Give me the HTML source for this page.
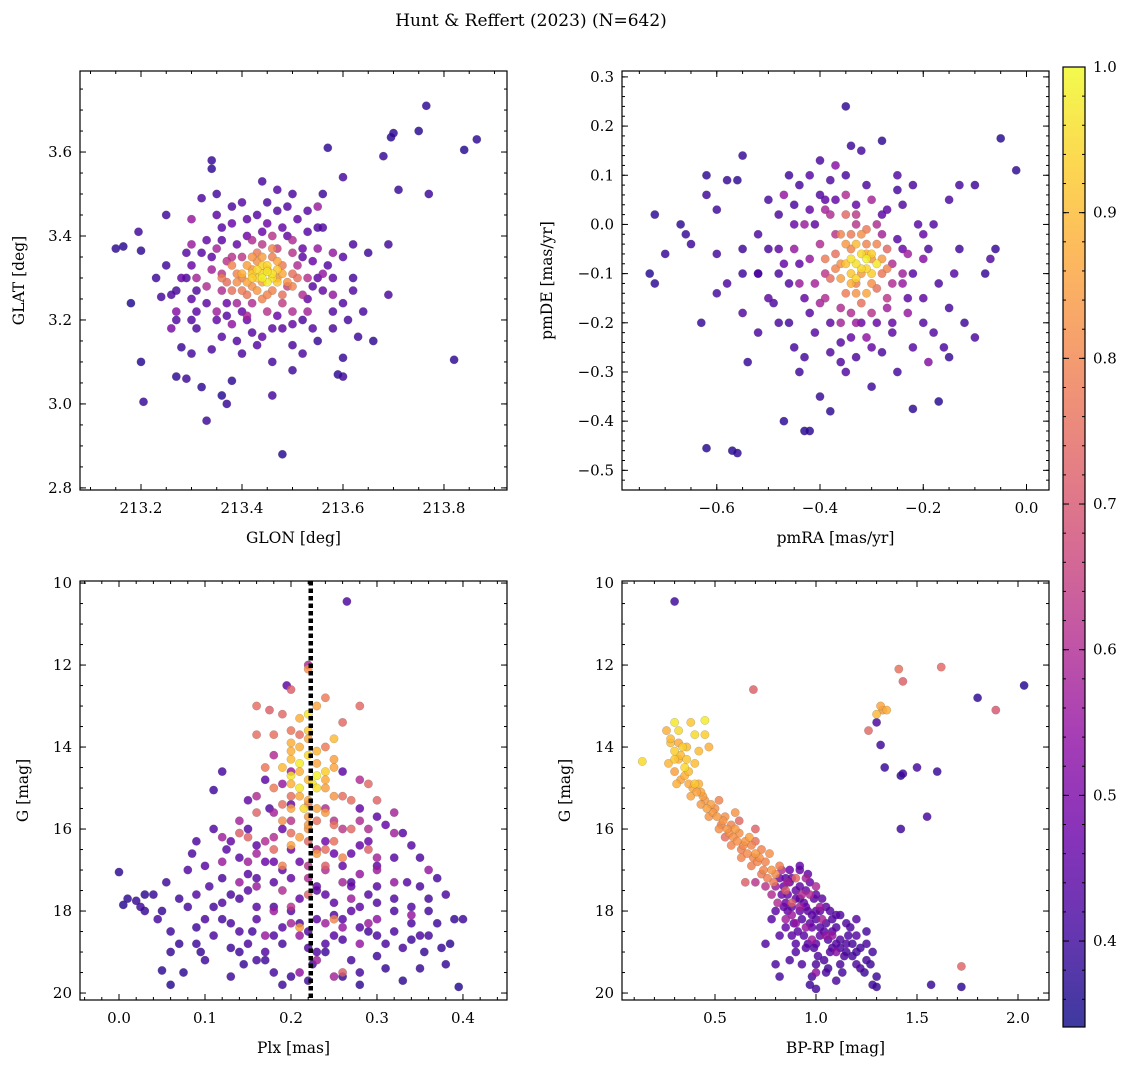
<!DOCTYPE html>
<html><head><meta charset="utf-8">
<style>
html,body{margin:0;padding:0;background:#fff;}
svg{display:block;font-family:"DejaVu Serif","Liberation Serif",serif;}
</style></head>
<body>
<svg id="fig" width="1136" height="1067" viewBox="0 0 1136 1067" xmlns="http://www.w3.org/2000/svg">
<text x="531" y="26" font-size="17" text-anchor="middle">Hunt &amp; Reffert (2023) (N=642)</text>
</svg>
<script>
// ---------- data: panel 1 (GLON, GLAT, membership) ----------
const p1x = [213.15,213.165,213.18,213.195,213.2,213.2,213.205,213.25,213.26,213.24,213.27,213.28,213.29,213.3,213.32,213.31,213.34,213.34,213.36,213.33,213.37,213.38,213.46,213.48,213.5,213.52,213.55,213.57,213.56,213.6,213.6,213.59,213.6,213.62,213.66,213.68,213.695,213.7,213.71,213.75,213.765,213.77,213.82,213.84,213.865,213.69,213.64,213.63,213.58,213.6,213.62,213.56,213.53,213.5,213.44,213.47,213.4,213.35,213.32,213.28,213.3,213.27,213.3,213.36,213.4,213.43,213.46,213.5,213.53,213.55,213.58,213.52,213.48,213.38,213.33,213.29,213.31,213.35,213.42,213.48,213.54,213.56,213.6,213.51,213.37,213.45,213.41,213.54,213.69,
213.3,213.27,213.26,213.55,213.5,213.35,213.38,213.52,213.45,213.33,213.4,213.55,213.36,213.53,213.47,213.42,213.58,213.31,213.49,213.44,213.38,213.5,
213.4,213.42,213.45,213.47,213.43,213.46,213.48,213.41,213.39,213.44,213.5,213.42,213.46,213.4,213.48,213.37,213.51,213.44,213.38,213.43,
213.44,213.45,213.43,213.46,213.44,213.47,213.42,213.45];
const p1y = [3.37,3.375,3.24,3.41,3.365,3.10,3.005,3.45,3.26,3.255,3.065,3.135,3.06,3.12,3.04,3.18,3.58,3.56,3.02,2.96,3.0,3.055,3.02,2.88,3.08,3.2,3.15,3.61,3.5,3.54,3.11,3.07,3.065,3.27,3.15,3.59,3.635,3.645,3.51,3.65,3.71,3.5,3.105,3.605,3.63,3.26,3.22,3.16,3.3,3.35,3.38,3.42,3.46,3.5,3.53,3.51,3.48,3.45,3.49,3.3,3.33,3.2,3.25,3.16,3.12,3.14,3.1,3.14,3.25,3.3,3.22,3.37,3.42,3.43,3.39,3.36,3.22,3.2,3.17,3.18,3.34,3.27,3.24,3.44,3.24,3.43,3.4,3.18,3.38,
3.44,3.22,3.18,3.47,3.39,3.37,3.19,3.26,3.22,3.28,3.35,3.37,3.31,3.3,3.37,3.24,3.26,3.3,3.28,3.38,3.35,3.22,
3.3,3.28,3.32,3.3,3.34,3.27,3.33,3.26,3.31,3.29,3.31,3.32,3.35,3.27,3.26,3.29,3.3,3.25,3.27,3.36,
3.31,3.315,3.3,3.3,3.33,3.32,3.31,3.29];
const p1p = [0.38,0.37,0.36,0.4,0.38,0.37,0.39,0.4,0.42,0.41,0.38,0.39,0.4,0.41,0.38,0.42,0.39,0.38,0.37,0.4,0.39,0.38,0.41,0.37,0.4,0.42,0.39,0.38,0.4,0.41,0.39,0.38,0.4,0.43,0.38,0.39,0.37,0.38,0.39,0.37,0.38,0.4,0.38,0.37,0.38,0.42,0.41,0.4,0.45,0.44,0.42,0.43,0.44,0.42,0.41,0.43,0.44,0.45,0.42,0.46,0.47,0.43,0.45,0.44,0.42,0.43,0.41,0.42,0.46,0.45,0.43,0.47,0.46,0.47,0.46,0.44,0.45,0.46,0.44,0.45,0.47,0.46,0.43,0.45,0.47,0.48,0.48,0.44,0.41,
0.55,0.52,0.5,0.56,0.6,0.58,0.54,0.6,0.62,0.6,0.63,0.55,0.62,0.61,0.64,0.6,0.55,0.58,0.65,0.63,0.62,0.6,
0.8,0.82,0.85,0.83,0.82,0.8,0.78,0.77,0.8,0.86,0.76,0.84,0.79,0.78,0.76,0.75,0.75,0.8,0.76,0.78,
0.95,0.97,0.93,0.96,0.94,0.92,0.93,0.98];
const p1xB = [213.34,213.36,213.39,213.41,213.44,213.49,213.52,213.54,213.5,213.46,213.41,213.37,213.33,213.31,213.29,213.32,213.36,213.43,213.47,213.53,213.57,213.58,213.52,213.44,213.39,213.34,213.27,213.25,213.23,213.62,213.65,213.61,213.35,213.38,213.49,213.55,213.45,213.3,213.4,213.47,
213.37,213.51,213.48,213.39,213.36,213.5,213.42,213.46,213.53,213.34,213.56,213.41,213.3,213.58,213.35,
213.41,213.43,213.45,213.49,213.47,213.42,213.39,213.46,213.44,213.4,213.48,213.41,213.38,213.5,213.36,
213.43,213.46,213.44,213.45,213.42,213.47];
const p1yB = [3.35,3.42,3.38,3.44,3.41,3.4,3.35,3.28,3.19,3.18,3.2,3.21,3.24,3.27,3.3,3.36,3.39,3.45,3.46,3.41,3.33,3.18,3.12,3.16,3.15,3.13,3.27,3.33,3.3,3.3,3.36,3.2,3.5,3.47,3.47,3.42,3.48,3.2,3.22,3.21,
3.34,3.33,3.24,3.24,3.27,3.36,3.39,3.4,3.22,3.32,3.31,3.21,3.38,3.36,3.22,
3.33,3.27,3.26,3.29,3.34,3.35,3.29,3.37,3.35,3.31,3.31,3.29,3.33,3.28,3.3,
3.32,3.31,3.3,3.33,3.3,3.29];
const p1pB = [0.45,0.44,0.46,0.45,0.47,0.46,0.45,0.44,0.46,0.45,0.47,0.44,0.45,0.43,0.42,0.44,0.45,0.44,0.43,0.44,0.43,0.42,0.42,0.46,0.43,0.42,0.41,0.4,0.4,0.41,0.4,0.41,0.41,0.42,0.43,0.42,0.42,0.43,0.46,0.47,
0.62,0.6,0.64,0.58,0.6,0.62,0.6,0.62,0.58,0.57,0.55,0.58,0.56,0.55,0.57,
0.85,0.84,0.8,0.82,0.86,0.83,0.82,0.8,0.85,0.88,0.87,0.86,0.8,0.8,0.78,
0.95,0.96,0.99,0.94,0.93,0.92];

// ---------- data: panel 2 (pmRA, pmDE, membership) ----------
const p2x = [-0.72,-0.73,-0.72,-0.7,-0.67,-0.65,-0.63,-0.62,-0.6,-0.62,-0.6,-0.58,-0.56,-0.55,-0.57,-0.56,-0.54,-0.52,-0.5,-0.47,-0.43,-0.42,-0.46,-0.48,-0.45,-0.44,-0.4,-0.38,-0.35,-0.34,-0.32,-0.28,-0.3,-0.25,-0.22,-0.17,-0.15,-0.12,-0.08,-0.05,-0.02,-0.06,-0.1,-0.13,-0.15,-0.18,-0.22,-0.25,-0.42,-0.4,-0.38,-0.5,-0.52,-0.47,-0.45,-0.43,-0.41,-0.36,-0.3,-0.26,-0.22,-0.18,-0.2,-0.24,-0.2,-0.27,-0.42,-0.48,-0.55,-0.58,-0.6,-0.35,-0.32,-0.14,-0.1,-0.07,-0.16,-0.52,-0.39,-0.62,-0.66,
-0.38,-0.33,-0.28,-0.26,-0.24,-0.27,-0.33,-0.4,-0.42,-0.39,-0.36,-0.23,-0.45,-0.3,-0.35,-0.2,-0.44,-0.37,-0.31,-0.47,-0.19,
-0.36,-0.34,-0.32,-0.3,-0.33,-0.35,-0.31,-0.28,-0.37,-0.34,-0.29,-0.38,-0.27,-0.32,-0.35,-0.31,
-0.33,-0.32,-0.31,-0.34,-0.3,-0.33,-0.35,-0.29];
const p2y = [0.02,-0.1,-0.12,-0.06,0.0,-0.04,-0.2,-0.455,-0.06,0.1,0.03,0.09,0.09,0.14,-0.46,-0.465,-0.28,-0.1,0.05,-0.4,-0.42,-0.42,0.1,-0.2,-0.25,-0.3,-0.35,-0.38,0.24,0.16,0.15,0.17,-0.33,-0.3,-0.375,-0.36,-0.27,-0.2,-0.1,0.175,0.11,-0.05,0.08,0.08,0.05,0.0,0.08,0.1,0.1,0.13,0.09,-0.15,-0.02,-0.08,0.0,-0.15,-0.22,-0.28,-0.25,-0.22,-0.25,-0.22,-0.15,-0.05,-0.02,0.03,0.03,-0.05,-0.18,-0.12,-0.14,-0.3,-0.2,-0.1,-0.23,-0.07,-0.25,-0.22,0.05,0.06,-0.02,
0.02,0.0,-0.02,-0.08,-0.12,-0.17,-0.2,-0.16,-0.07,-0.1,-0.17,-0.18,-0.05,0.05,0.06,-0.07,-0.12,0.12,-0.23,0.06,-0.28,
-0.08,-0.05,-0.1,-0.07,-0.12,-0.14,-0.04,-0.1,-0.06,-0.02,-0.13,-0.11,-0.05,-0.16,0.02,-0.01,
-0.08,-0.06,-0.09,-0.1,-0.1,-0.04,-0.08,-0.08];
const p2p = [0.38,0.37,0.38,0.39,0.38,0.4,0.39,0.37,0.41,0.38,0.4,0.39,0.38,0.39,0.37,0.38,0.39,0.42,0.41,0.38,0.37,0.38,0.4,0.42,0.41,0.4,0.39,0.38,0.38,0.4,0.41,0.38,0.4,0.41,0.38,0.37,0.39,0.4,0.39,0.37,0.38,0.39,0.4,0.41,0.42,0.43,0.42,0.43,0.44,0.42,0.43,0.45,0.42,0.46,0.47,0.46,0.44,0.43,0.46,0.45,0.44,0.43,0.45,0.47,0.46,0.45,0.46,0.45,0.43,0.42,0.41,0.43,0.47,0.44,0.42,0.43,0.42,0.42,0.45,0.4,0.39,
0.6,0.62,0.58,0.6,0.55,0.57,0.56,0.58,0.55,0.63,0.6,0.55,0.55,0.58,0.6,0.52,0.56,0.53,0.54,0.55,0.52,
0.82,0.8,0.84,0.83,0.79,0.78,0.8,0.77,0.76,0.78,0.76,0.75,0.74,0.76,0.74,0.78,
0.96,0.95,0.94,0.92,0.93,0.9,0.91,0.97];
const p2xB = [-0.44,-0.41,-0.37,-0.33,-0.28,-0.25,-0.22,-0.23,-0.26,-0.29,-0.34,-0.38,-0.42,-0.46,-0.48,-0.5,-0.45,-0.4,-0.31,-0.24,-0.19,-0.17,-0.2,-0.28,-0.38,-0.46,-0.52,-0.55,-0.43,-0.33,-0.25,-0.35,-0.48,-0.15,-0.13,-0.55,-0.44,-0.36,-0.21,-0.49,
-0.4,-0.37,-0.29,-0.26,-0.3,-0.36,-0.41,-0.23,-0.39,-0.27,-0.33,-0.43,-0.34,-0.24,-0.39,
-0.36,-0.33,-0.3,-0.28,-0.35,-0.32,-0.37,-0.29,-0.31,-0.34,-0.36,-0.27,-0.39,-0.31,
-0.32,-0.34,-0.3,-0.33,-0.31];
const p2yB = [-0.08,0.0,0.05,0.04,0.02,-0.03,-0.1,-0.15,-0.2,-0.2,-0.23,-0.2,-0.18,-0.12,-0.1,-0.05,0.04,0.06,0.08,0.04,-0.05,-0.12,-0.2,-0.26,-0.26,-0.2,-0.1,-0.05,-0.27,-0.27,0.07,0.1,0.02,-0.17,-0.05,-0.1,0.08,-0.24,0.0,-0.16,
-0.04,-0.02,0.0,-0.12,-0.18,-0.2,-0.12,-0.06,-0.15,-0.15,0.02,0.0,-0.18,-0.1,0.03,
-0.11,-0.14,-0.12,-0.07,-0.04,-0.02,-0.09,-0.04,-0.14,-0.12,-0.02,-0.09,-0.07,-0.06,
-0.09,-0.07,-0.06,-0.11,-0.07];
const p2pB = [0.45,0.45,0.46,0.46,0.45,0.44,0.44,0.45,0.46,0.47,0.46,0.45,0.44,0.43,0.42,0.42,0.42,0.43,0.42,0.43,0.42,0.42,0.43,0.42,0.43,0.41,0.41,0.4,0.41,0.42,0.41,0.41,0.42,0.41,0.4,0.4,0.41,0.44,0.44,0.42,
0.6,0.62,0.6,0.6,0.62,0.58,0.58,0.57,0.6,0.63,0.63,0.56,0.6,0.57,0.58,
0.85,0.83,0.82,0.84,0.84,0.82,0.8,0.8,0.86,0.88,0.8,0.8,0.78,0.88,
0.95,0.96,0.93,0.94,0.99];

// ---------- data: panel 3 (Plx, G, membership) ----------
const p3x = [0.0,0.005,0.01,0.02,0.03,0.025,0.04,0.045,0.05,0.06,0.055,0.07,0.075,0.08,0.085,0.09,0.095,0.1,0.11,0.105,0.12,0.125,0.13,0.14,0.145,0.15,0.155,0.16,0.17,0.175,0.18,0.19,0.195,0.2,0.21,0.225,0.23,0.24,0.25,0.26,0.265,0.27,0.28,0.29,0.3,0.31,0.32,0.33,0.335,0.34,0.35,0.355,0.36,0.37,0.38,0.39,0.395,0.4,0.375,0.385,0.31,0.33,0.35,0.29,0.27,0.25,0.12,0.13,0.15,0.17,0.19,0.2,0.11,0.14,0.16,0.18,0.22,0.26,0.28,0.3,0.32,0.34,0.36,0.06,0.08,0.1,0.2,0.24,0.26,0.28,0.3,0.15,0.17,0.19,0.23,0.27,0.13,0.09,
0.22,0.19,0.2,0.3,0.32,0.18,0.16,0.28,0.24,0.14,0.2,0.26,0.22,0.3,0.12,0.34,0.17,0.25,0.23,0.21,0.29,0.15,0.27,0.19,0.25,0.21,0.36,0.32,0.18,0.28,
0.16,0.175,0.2,0.18,0.28,0.24,0.2,0.16,0.14,0.26,0.27,0.23,0.18,0.22,0.24,0.2,0.25,0.17,0.29,0.3,0.24,0.21,0.26,0.22,
0.21,0.22,0.2,0.23,0.25,0.22,0.2,0.21,0.23,0.24,0.22,0.19,0.23,0.2,0.25,0.21,0.22,0.23,0.24,0.26,0.22,0.2,0.21,0.25,0.22,0.19,
0.22,0.21,0.225,0.215,0.23,0.2];
const p3y = [17.05,17.85,17.7,17.75,17.6,17.9,17.6,18.2,19.45,19.8,17.3,18.8,19.5,17.9,16.6,18.4,19.0,18.2,15.05,17.4,14.6,16.5,18.9,17.7,19.3,16.0,18.5,17.2,19.2,15.5,17.9,18.8,12.5,19.6,18.3,19.3,17.5,19.0,18.1,19.6,10.45,17.3,19.8,18.5,17.8,19.4,18.0,19.7,17.3,18.7,17.4,19.0,17.7,18.3,17.6,18.2,19.85,18.2,18.9,18.8,15.9,16.1,16.7,16.3,16.6,17.8,17.8,16.3,17.5,16.8,17.0,16.5,18.6,19.0,18.2,19.5,18.9,18.7,17.9,19.1,18.5,17.9,18.6,18.5,17.0,16.9,15.4,16.3,14.6,15.5,15.7,15.3,14.8,19.8,18.2,19.2,18.3,17.6,
12.0,14.9,14.6,16.7,17.3,16.2,16.6,17.1,17.0,17.3,17.9,18.4,17.2,18.2,16.2,18.1,18.6,15.8,16.5,18.6,16.0,16.8,17.7,17.5,19.6,19.5,17.0,16.1,18.0,18.8,
13.0,13.1,13.6,13.7,13.0,12.8,15.2,15.6,16.1,15.2,16.0,15.8,15.0,16.3,16.9,16.1,16.3,14.5,14.9,15.3,14.0,13.7,19.5,17.6,
13.3,13.8,14.3,14.1,14.5,14.8,14.9,15.2,15.5,15.0,15.7,15.8,16.6,16.4,14.3,14.6,12.1,13.0,15.6,16.7,16.0,13.9,18.4,18.2,15.3,16.9,
13.2,14.4,14.9,15.5,14.7,14.7];
const p3p = [0.38,0.37,0.38,0.39,0.38,0.4,0.39,0.41,0.38,0.37,0.4,0.39,0.38,0.41,0.42,0.4,0.39,0.42,0.4,0.43,0.41,0.44,0.4,0.42,0.39,0.43,0.41,0.44,0.4,0.43,0.42,0.41,0.45,0.4,0.42,0.41,0.45,0.4,0.43,0.39,0.42,0.44,0.38,0.41,0.43,0.39,0.42,0.38,0.44,0.4,0.42,0.39,0.41,0.4,0.42,0.39,0.37,0.4,0.39,0.38,0.46,0.44,0.42,0.47,0.46,0.45,0.43,0.46,0.44,0.47,0.46,0.48,0.42,0.4,0.44,0.41,0.43,0.42,0.45,0.4,0.42,0.43,0.41,0.4,0.43,0.44,0.47,0.48,0.45,0.46,0.45,0.46,0.45,0.4,0.45,0.41,0.42,0.44,
0.6,0.55,0.56,0.58,0.55,0.6,0.58,0.55,0.6,0.56,0.62,0.55,0.6,0.54,0.57,0.55,0.56,0.62,0.63,0.55,0.6,0.57,0.56,0.6,0.58,0.54,0.55,0.57,0.56,0.55,
0.75,0.72,0.77,0.76,0.74,0.78,0.76,0.73,0.72,0.75,0.74,0.76,0.78,0.74,0.72,0.75,0.76,0.77,0.74,0.73,0.78,0.75,0.72,0.73,
0.88,0.87,0.9,0.89,0.86,0.9,0.88,0.87,0.86,0.85,0.84,0.82,0.84,0.86,0.85,0.88,0.82,0.86,0.84,0.8,0.83,0.88,0.85,0.8,0.87,0.8,
0.97,0.98,0.96,0.95,0.99,0.97];
const p3xB = [0.12,0.14,0.16,0.18,0.2,0.22,0.24,0.26,0.28,0.3,0.32,0.34,0.36,0.15,0.17,0.19,0.21,0.23,0.25,0.27,0.29,0.31,0.33,0.11,0.13,0.09,0.07,0.05,0.03,0.38,0.35,0.16,0.18,0.2,0.26,0.28,0.3,0.32,0.14,0.12,0.24,0.22,0.18,0.28,0.3,0.16,0.1,0.06,0.34,0.37,0.19,0.25,0.23,0.27,0.21,0.15,0.13,0.35,0.09,0.11,
0.18,0.16,0.24,0.28,0.2,0.26,0.2,0.16,0.3,0.12,0.24,0.14,0.28,0.18,0.22,0.26,0.32,0.17,0.29,0.23,
0.15,0.19,0.25,0.27,0.18,0.24,0.22,0.16,0.26,0.2,0.19,0.29,
0.21,0.23,0.24,0.2,0.22,0.25,0.21,0.2,0.22,0.24,0.23,0.21,0.22,0.25,0.19];
const p3yB = [17.2,18.5,17.9,17.3,18.0,18.5,17.6,18.2,18.4,17.4,17.7,18.3,18.0,18.8,19.0,18.4,17.7,19.0,18.6,18.0,17.6,18.8,18.9,17.9,17.6,18.8,17.7,18.0,18.0,19.3,19.4,16.4,16.8,17.2,16.9,16.4,16.9,16.7,16.7,18.2,18.8,19.7,18.6,19.5,18.6,19.2,19.2,19.0,16.4,17.2,16.0,16.6,17.4,17.4,16.8,17.1,19.6,18.6,16.3,16.0,
15.6,15.2,15.5,15.8,15.8,17.3,18.3,17.4,17.0,16.8,18.3,15.8,14.8,14.2,16.9,16.0,15.6,16.3,18.3,19.2,
16.2,15.4,15.9,15.3,16.5,16.5,15.4,13.7,13.4,12.6,13.2,16.5,
14.0,14.4,14.8,15.5,15.9,15.2,16.2,14.1,14.2,14.6,15.0,15.0,13.6,13.8,14.5];
const p3pB = [0.42,0.43,0.44,0.45,0.44,0.43,0.45,0.44,0.43,0.44,0.43,0.42,0.41,0.42,0.43,0.44,0.46,0.43,0.44,0.45,0.44,0.42,0.42,0.41,0.42,0.4,0.4,0.39,0.39,0.39,0.39,0.45,0.47,0.46,0.46,0.46,0.45,0.44,0.44,0.41,0.43,0.4,0.43,0.41,0.42,0.41,0.4,0.39,0.44,0.41,0.47,0.47,0.46,0.46,0.47,0.44,0.4,0.42,0.42,0.43,
0.58,0.6,0.6,0.6,0.62,0.58,0.58,0.56,0.56,0.56,0.57,0.58,0.6,0.6,0.62,0.63,0.58,0.6,0.56,0.57,
0.73,0.75,0.76,0.75,0.74,0.75,0.77,0.75,0.74,0.72,0.74,0.72,
0.88,0.86,0.87,0.86,0.84,0.83,0.85,0.88,0.95,0.93,0.96,0.97,0.92,0.9,0.9];

// ---------- data: panel 4 (BP-RP, G, membership) ----------
const p4x = [0.14,0.3,0.38,0.45,0.26,0.28,0.3,0.32,0.35,0.33,0.37,0.4,0.3,0.42,0.43,0.45,0.48,0.5,0.38,0.4,0.32,0.45,0.47,0.36,0.55,0.58,0.6,0.62,0.65,0.68,0.7,0.72,0.75,0.78,0.8,0.53,0.57,0.63,0.67,0.73,0.77,0.82,0.6,0.52,1.32,1.3,1.33,1.35,
0.69,1.41,1.62,1.43,1.89,1.26,1.72,0.65,0.55,0.62,0.7,0.85,0.9,0.88,0.7,
0.3,1.8,2.03,1.3,1.32,1.34,1.42,1.43,1.5,1.6,1.42,1.55,0.85,0.9,0.92,0.95,1.0,0.88,0.93,0.98,1.02,1.05,1.08,1.1,1.12,1.15,1.18,1.2,1.22,1.25,1.3,1.3,1.28,0.97,1.0,1.05,0.93,0.9,0.88,0.85,0.8,0.75,0.85,0.95,1.0,1.05,1.1,1.15,1.2,1.25,1.28,1.0,1.07,1.12,0.83,0.87,0.92,0.97,1.02,1.08,1.2,1.57,1.72,1.0,0.95,1.15,0.82,1.1,0.92,0.97,
0.95,1.0,0.9,0.98,1.05,1.1,0.85,0.93,1.03,0.8,0.78,0.7,1.0];
const p4y = [14.35,13.4,13.4,13.35,13.6,13.9,14.1,14.3,14.5,14.8,14.6,14.9,14.6,14.9,15.1,15.3,15.4,15.5,15.2,14.4,13.9,13.7,14.0,14.0,15.7,15.9,16.0,16.1,16.3,16.4,16.6,16.7,16.8,17.0,17.1,15.9,16.1,16.5,16.2,16.5,16.6,16.9,15.6,15.3,13.0,13.2,13.1,13.1,
12.6,12.1,12.05,12.4,13.1,13.6,19.35,17.3,16.2,15.8,16.0,17.5,17.2,17.8,16.3,
10.45,12.8,12.5,13.4,13.95,14.5,14.7,14.65,14.5,14.6,16.0,15.7,17.2,17.5,17.7,17.9,18.0,17.9,18.2,18.4,18.6,18.3,18.5,18.8,18.7,19.0,19.1,19.3,19.4,19.2,19.6,19.85,19.8,19.8,19.9,19.5,19.3,18.8,18.6,18.4,19.3,18.8,17.8,17.5,17.6,17.9,18.1,18.3,18.6,18.8,19.0,18.8,19.0,19.3,17.6,17.3,18.0,18.3,18.0,18.9,18.2,19.8,19.85,19.3,18.9,18.8,19.6,19.7,17.0,17.3,
17.2,17.4,18.3,18.7,18.6,19.0,18.2,17.6,18.2,17.4,17.6,17.3,19.5];
const p4p = [0.95,0.97,0.92,0.98,0.88,0.9,0.93,0.88,0.95,0.86,0.9,0.92,0.85,0.88,0.86,0.84,0.85,0.82,0.86,0.9,0.87,0.93,0.88,0.9,0.82,0.8,0.84,0.82,0.83,0.8,0.84,0.82,0.8,0.83,0.81,0.8,0.82,0.79,0.85,0.8,0.82,0.79,0.83,0.8,0.86,0.9,0.84,0.88,
0.72,0.76,0.74,0.72,0.7,0.74,0.73,0.72,0.75,0.74,0.73,0.72,0.74,0.72,0.76,
0.4,0.38,0.37,0.42,0.4,0.39,0.38,0.4,0.41,0.39,0.4,0.41,0.44,0.46,0.45,0.47,0.45,0.46,0.44,0.47,0.46,0.43,0.45,0.44,0.43,0.42,0.41,0.43,0.42,0.41,0.4,0.39,0.4,0.4,0.41,0.42,0.43,0.44,0.45,0.46,0.42,0.43,0.48,0.47,0.46,0.45,0.44,0.43,0.44,0.42,0.41,0.45,0.44,0.42,0.48,0.47,0.46,0.45,0.46,0.43,0.44,0.39,0.38,0.42,0.44,0.43,0.41,0.42,0.46,0.47,
0.58,0.6,0.55,0.56,0.55,0.52,0.57,0.6,0.58,0.56,0.6,0.62,0.54];
const p4xB = [0.28,0.3,0.33,0.35,0.37,0.39,0.41,0.44,0.46,0.49,0.51,0.54,0.56,0.59,0.61,0.64,0.66,0.69,0.71,0.74,0.76,0.79,0.34,0.36,0.31,0.43,0.47,0.52,0.58,0.63,0.68,0.73,0.27,0.4,0.42,0.32,
0.82,0.84,0.86,0.88,0.9,0.92,0.94,0.96,0.98,1.0,1.02,1.04,1.06,1.08,1.1,1.12,1.14,1.16,1.18,1.2,1.22,1.24,0.86,0.89,0.91,0.94,0.96,0.99,1.01,1.04,1.06,0.87,0.92,0.96,0.99,1.03,1.07,1.12,1.17,0.84,0.8,0.78,0.82,1.25,1.27,0.98,1.13,0.9,0.87,
0.83,0.86,0.92,0.97,1.02,0.88,0.81,0.75,0.95,1.08];
const p4yB = [13.8,14.3,14.2,14.7,14.9,15.0,15.1,15.2,15.5,15.6,15.7,15.8,16.0,16.2,16.3,16.4,16.6,16.7,16.8,17.0,17.2,17.3,14.0,14.3,14.9,15.4,15.7,16.0,16.4,16.7,16.9,17.1,14.4,13.7,14.1,13.6,
17.2,17.4,17.6,17.2,17.7,17.4,17.8,18.0,18.1,18.2,18.4,18.5,18.7,18.2,18.4,18.9,19.1,18.6,18.8,19.0,18.9,19.5,18.0,18.3,18.5,18.6,18.8,18.9,19.1,19.2,19.4,17.0,16.9,17.1,17.7,17.7,18.0,18.1,18.4,17.9,18.0,18.2,18.6,18.5,19.3,19.6,19.5,19.0,19.2,
17.0,17.3,17.9,17.6,17.9,18.1,17.8,17.4,18.4,18.6];
const p4pB = [0.9,0.92,0.9,0.88,0.87,0.86,0.86,0.85,0.85,0.84,0.84,0.83,0.83,0.82,0.82,0.81,0.81,0.8,0.8,0.8,0.79,0.78,0.93,0.92,0.88,0.84,0.83,0.82,0.8,0.8,0.79,0.78,0.89,0.95,0.9,0.95,
0.48,0.47,0.47,0.47,0.46,0.46,0.46,0.45,0.45,0.44,0.44,0.44,0.43,0.43,0.43,0.42,0.42,0.42,0.41,0.41,0.41,0.4,0.46,0.45,0.45,0.44,0.44,0.43,0.43,0.42,0.41,0.47,0.46,0.46,0.45,0.45,0.44,0.43,0.42,0.46,0.45,0.44,0.44,0.41,0.4,0.41,0.41,0.43,0.42,
0.6,0.58,0.57,0.6,0.56,0.56,0.6,0.62,0.55,0.55];

// ---------- tick arrays ----------
const t1x = [213.2,213.4,213.6,213.8];
const t1y = [2.8,3.0,3.2,3.4,3.6];
const t2x = [-0.6,-0.4,-0.2,0.0];
const t2y = [-0.5,-0.4,-0.3,-0.2,-0.1,0.0,0.1,0.2,0.3];
const t3x = [0.0,0.1,0.2,0.3,0.4];
const t3y = [10,12,14,16,18,20];
const t4x = [0.5,1.0,1.5,2.0];
const t4y = [10,12,14,16,18,20];
const tcb = [0.4,0.5,0.6,0.7,0.8,0.9,1.0];
const plxRef = [0.223];
const cbMin = 0.341, cbMax = 1.0;

const NS = 'http://www.w3.org/2000/svg';
const svg = document.getElementById('fig');
function mk(tag, attrs, parent){const e=document.createElementNS(NS,tag);for(const k in attrs)e.setAttribute(k,attrs[k]);(parent||svg).appendChild(e);return e;}

const plasma=[[13,8,135],[65,4,157],[106,0,168],[143,13,164],[177,42,144],[204,71,120],[225,100,98],[242,132,75],[252,166,54],[252,206,37],[240,249,33]];
function cmap(v){let t=(v-cbMin)/(cbMax-cbMin);t=Math.max(0,Math.min(1,t));const f=t*10,i=Math.min(9,Math.floor(f)),r=f-i;const a=plasma[i],b=plasma[i+1];return 'rgb('+a.map((c,k)=>Math.round(c+(b[k]-c)*r)).join(',')+')';}
function fmt(v,d){const s=Math.abs(v).toFixed(d);return (v<-1e-9?'\u2212':'')+s;}

function panel(cfg){
  const {name,L,R,T,B,x0,x1,y0,y1,xs,ys,ps,xt,yt,xd,yd,xm,ym,xlab,ylab,inv}=cfg;
  const g=mk('g',{});
  
  
  const sx=v=>L+(v-x0)/(x1-x0)*(R-L);
  const sy=inv?(v=>T+(v-y0)/(y1-y0)*(B-T)):(v=>B-(v-y0)/(y1-y0)*(B-T));
  const pts=mk('g',{},g);
  
  
  const idx=xs.map((_,i)=>i).sort((a,b)=>ps[a]-ps[b]);
  idx.forEach(i=>{
    const c=mk('circle',{cx:sx(xs[i]).toFixed(1),cy:sy(ys[i]).toFixed(1),r:4.2,fill:cmap(ps[i]),'fill-opacity':0.82,stroke:'#555','stroke-width':0.3,'stroke-opacity':0.6},pts);
    
    
  });
  if(cfg.extra) cfg.extra(g,sx,sy);
  const fr=mk('rect',{x:L,y:T,width:R-L,height:B-T,fill:'none',stroke:'#000','stroke-width':1.2},g);
  
  
  const tk=mk('g',{stroke:'#000','stroke-width':1},g);
  for(let v=Math.ceil(x0/xm)*xm; v<=x1; v+=xm){const X=sx(v);mk('line',{x1:X,x2:X,y1:B,y2:B-3},tk);mk('line',{x1:X,x2:X,y1:T,y2:T+3},tk);}
  for(let v=Math.ceil(Math.min(y0,y1)/ym)*ym; v<=Math.max(y0,y1); v+=ym){const Y=sy(v);mk('line',{x1:L,x2:L+3,y1:Y,y2:Y},tk);mk('line',{x1:R,x2:R-3,y1:Y,y2:Y},tk);}
  const xa=mk('g',{},g);
  
  
  xt.forEach(v=>{const X=sx(v);mk('line',{x1:X,x2:X,y1:B,y2:B-6,stroke:'#000'},xa);mk('line',{x1:X,x2:X,y1:T,y2:T+6,stroke:'#000'},xa);
    const t=mk('text',{x:X,y:B+23,'font-size':15,'text-anchor':'middle'},xa);t.textContent=fmt(v,xd);
    
    });
  const ya=mk('g',{},g);
  
  
  yt.forEach(v=>{const Y=sy(v);mk('line',{x1:L,x2:L+6,y1:Y,y2:Y,stroke:'#000'},ya);mk('line',{x1:R,x2:R-6,y1:Y,y2:Y,stroke:'#000'},ya);
    const t=mk('text',{x:L-8,y:Y+5,'font-size':15,'text-anchor':'end'},ya);t.textContent=fmt(v,yd);
    
    });
  const xl=mk('text',{x:(L+R)/2,y:B+53,'font-size':15.5,'text-anchor':'middle'},g);xl.textContent=xlab;
  
  
  const yx=cfg.ylx, yy=(T+B)/2;
  const yl=mk('text',{x:yx,y:yy,'font-size':15.5,'text-anchor':'middle',transform:'rotate(-90 '+yx+' '+yy+')'},g);yl.textContent=ylab;
  
  
}

panel({name:'sky-position-panel',L:80,R:507,T:71,B:490,x0:213.0792,x1:213.9248,y0:2.795,y1:3.793,xs:p1x.concat(p1xB),ys:p1y.concat(p1yB),ps:p1p.concat(p1pB),xt:t1x,yt:t1y,xd:1,yd:1,xm:0.05,ym:0.05,xlab:'GLON [deg]',ylab:'GLAT [deg]',ylx:24});
panel({name:'proper-motion-panel',L:622,R:1049,T:71,B:490,x0:-0.7836,x1:0.0436,y0:-0.540,y1:0.312,xs:p2x.concat(p2xB),ys:p2y.concat(p2yB),ps:p2p.concat(p2pB),xt:t2x,yt:t2y,xd:1,yd:1,xm:0.05,ym:0.02,xlab:'pmRA [mas/yr]',ylab:'pmDE [mas/yr]',ylx:552});
panel({name:'parallax-magnitude-panel',L:80,R:507,T:581,B:1000,x0:-0.04535,x1:0.4512,y0:9.95,y1:20.17,xs:p3x.concat(p3xB),ys:p3y.concat(p3yB),ps:p3p.concat(p3pB),xt:t3x,yt:t3y,xd:1,yd:0,xm:0.02,ym:0.5,xlab:'Plx [mas]',ylab:'G [mag]',ylx:28,inv:true,
  extra:(g,sx,sy)=>{plxRef.forEach(v=>{const l=mk('line',{x1:sx(v),x2:sx(v),y1:581,y2:1000,stroke:'#000','stroke-width':4.5,'stroke-dasharray':'4.5,3'},g);
    
    });}});
panel({name:'color-magnitude-panel',L:622,R:1049,T:581,B:1000,x0:0.0396,x1:2.1535,y0:9.95,y1:20.17,xs:p4x.concat(p4xB),ys:p4y.concat(p4yB),ps:p4p.concat(p4pB),xt:t4x,yt:t4y,xd:1,yd:0,xm:0.1,ym:0.5,xlab:'BP-RP [mag]',ylab:'G [mag]',ylx:570,inv:true});

// colorbar
(function(){
  const L=1063,R=1085,T=67,B=1027;
  const g=mk('g',{});
  
  
  const defs=mk('defs',{},g);
  const lg=mk('linearGradient',{id:'cbg',x1:0,y1:1,x2:0,y2:0},defs);
  for(let i=0;i<=10;i++){mk('stop',{offset:(i/10),'stop-color':'rgb('+plasma[i].join(',')+')'},lg);}
  const r=mk('rect',{x:L,y:T,width:R-L,height:B-T,fill:'url(#cbg)','fill-opacity':0.8},g);
  
  
  mk('rect',{x:L,y:T,width:R-L,height:B-T,fill:'none',stroke:'#000','stroke-width':1.2},g);
  const sy=v=>B-(v-cbMin)/(cbMax-cbMin)*(B-T);
  for(let v=0.36; v<=1.0; v+=0.02){const Y=sy(v);mk('line',{x1:R,x2:R-3,y1:Y,y2:Y,stroke:'#000'},g);mk('line',{x1:L,x2:L+3,y1:Y,y2:Y,stroke:'#000'},g);}
  tcb.forEach(v=>{const Y=sy(v);mk('line',{x1:R,x2:R-6,y1:Y,y2:Y,stroke:'#000'},g);mk('line',{x1:L,x2:L+6,y1:Y,y2:Y,stroke:'#000'},g);
    const t=mk('text',{x:R+8,y:Y+5,'font-size':15},g);t.textContent=v.toFixed(1);
    
    });
})();
</script>
</body></html>
